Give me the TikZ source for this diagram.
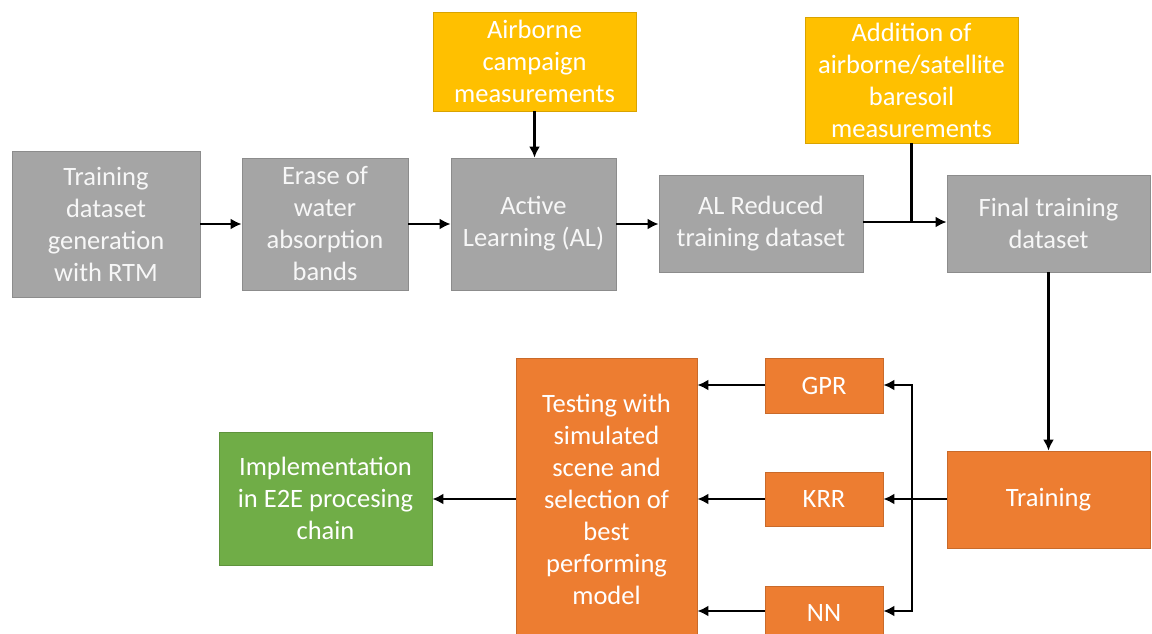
\documentclass[tikz,border=0pt]{standalone}
\usepackage{fontspec}
\setmainfont{Carlito}
\usepackage{tikz}
\usetikzlibrary{arrows.meta,positioning,calc}

\definecolor{boxgray}{HTML}{A5A5A5}
\definecolor{boxyellow}{HTML}{FFC000}
\definecolor{boxorange}{HTML}{ED7D31}
\definecolor{boxgreen}{HTML}{70AD47}

\begin{document}
\begin{tikzpicture} [x=1pt, y=-1pt,
  blk/.style={rectangle, inner sep=2pt, align=center, text=white,
    font=\fontsize{26.5}{32}\selectfont, line width=0.8pt},
  grayblk/.style={blk, fill=boxgray, draw=boxgray!85!black, text=white!94!gray},
  yellowblk/.style={blk, fill=boxyellow, draw=boxyellow!85!black},
  orangeblk/.style={blk, fill=boxorange, draw=boxorange!85!black},
  greenblk/.style={blk, fill=boxgreen, draw=boxgreen!85!black},
  flow/.style={-{Latex[length=11pt,width=11pt]}, line width=2.6pt, black}]
\clip (0,0) rectangle (1152,634);

% top row
\node[grayblk, minimum width=188, minimum height=146] (rtm) at (106,224) {Training\\dataset\\generation\\with RTM};
\node[grayblk, minimum width=166, minimum height=132] (erase) at (325,224) {Erase of\\water\\absorption\\bands};
\node[grayblk, minimum width=165, minimum height=132] (al) at (533.5,224) {Active\\Learning (AL)};
\node[yellowblk, minimum width=203, minimum height=99] (air) at (534.5,61.5) {Airborne\\campaign\\measurements};
\node[grayblk, minimum width=204, minimum height=97] (red) at (761,223.5) {AL Reduced\\training dataset};
\node[yellowblk, minimum width=213, minimum height=126] (add) at (911.5,80) {Addition of\\airborne/satellite\\baresoil\\measurements};
\node[grayblk, minimum width=203, minimum height=97] (final) at (1048.5,223.5) {Final training\\dataset};

% bottom row
\node[orangeblk, minimum width=203, minimum height=97] (train) at (1048.5,499.5) {Training};
\node[orangeblk, minimum width=118, minimum height=55] (gpr) at (824,385.5) {GPR};
\node[orangeblk, minimum width=118, minimum height=54] (krr) at (824,499) {KRR};
\node[orangeblk, minimum width=118, minimum height=54] (nn) at (824,613) {NN};
\node[orangeblk, minimum width=181, minimum height=282] (test) at (606.5,499) {Testing with\\simulated\\scene and\\selection of\\best\\performing\\model};
\node[greenblk, minimum width=213, minimum height=133] (impl) at (325.5,498.5) {Implementation\\in E2E procesing\\chain};

% connectors
\draw[flow] (rtm.east |- 0,224) -- (erase.west |- 0,224);
\draw[flow] (erase.east |- 0,224) -- (al.west |- 0,224);
\draw[flow] (air.south) -- (air.south |- al.north);
\draw[flow] (al.east |- 0,224) -- (red.west |- 0,224);
\draw[flow] (red.east |- 0,222) -- (final.west |- 0,222);
\draw[line width=2.6pt] (add.south) -- (add.south |- 0,222);
\draw[flow] (final.south) -- (train.north);

\coordinate (split) at (912,499);
\draw[flow] (train.west |- split) -- (krr.east |- split);
\draw[flow] (split) |- (gpr.east |- 0,385);
\draw[flow] (split) |- (nn.east |- 0,611);
\draw[flow] (gpr.west |- 0,385) -- (test.east |- 0,385);
\draw[flow] (krr.west |- split) -- (test.east |- split);
\draw[flow] (nn.west |- 0,611) -- (test.east |- 0,611);
\draw[flow] (test.west |- split) -- (impl.east |- split);
\end{tikzpicture}
\end{document}
